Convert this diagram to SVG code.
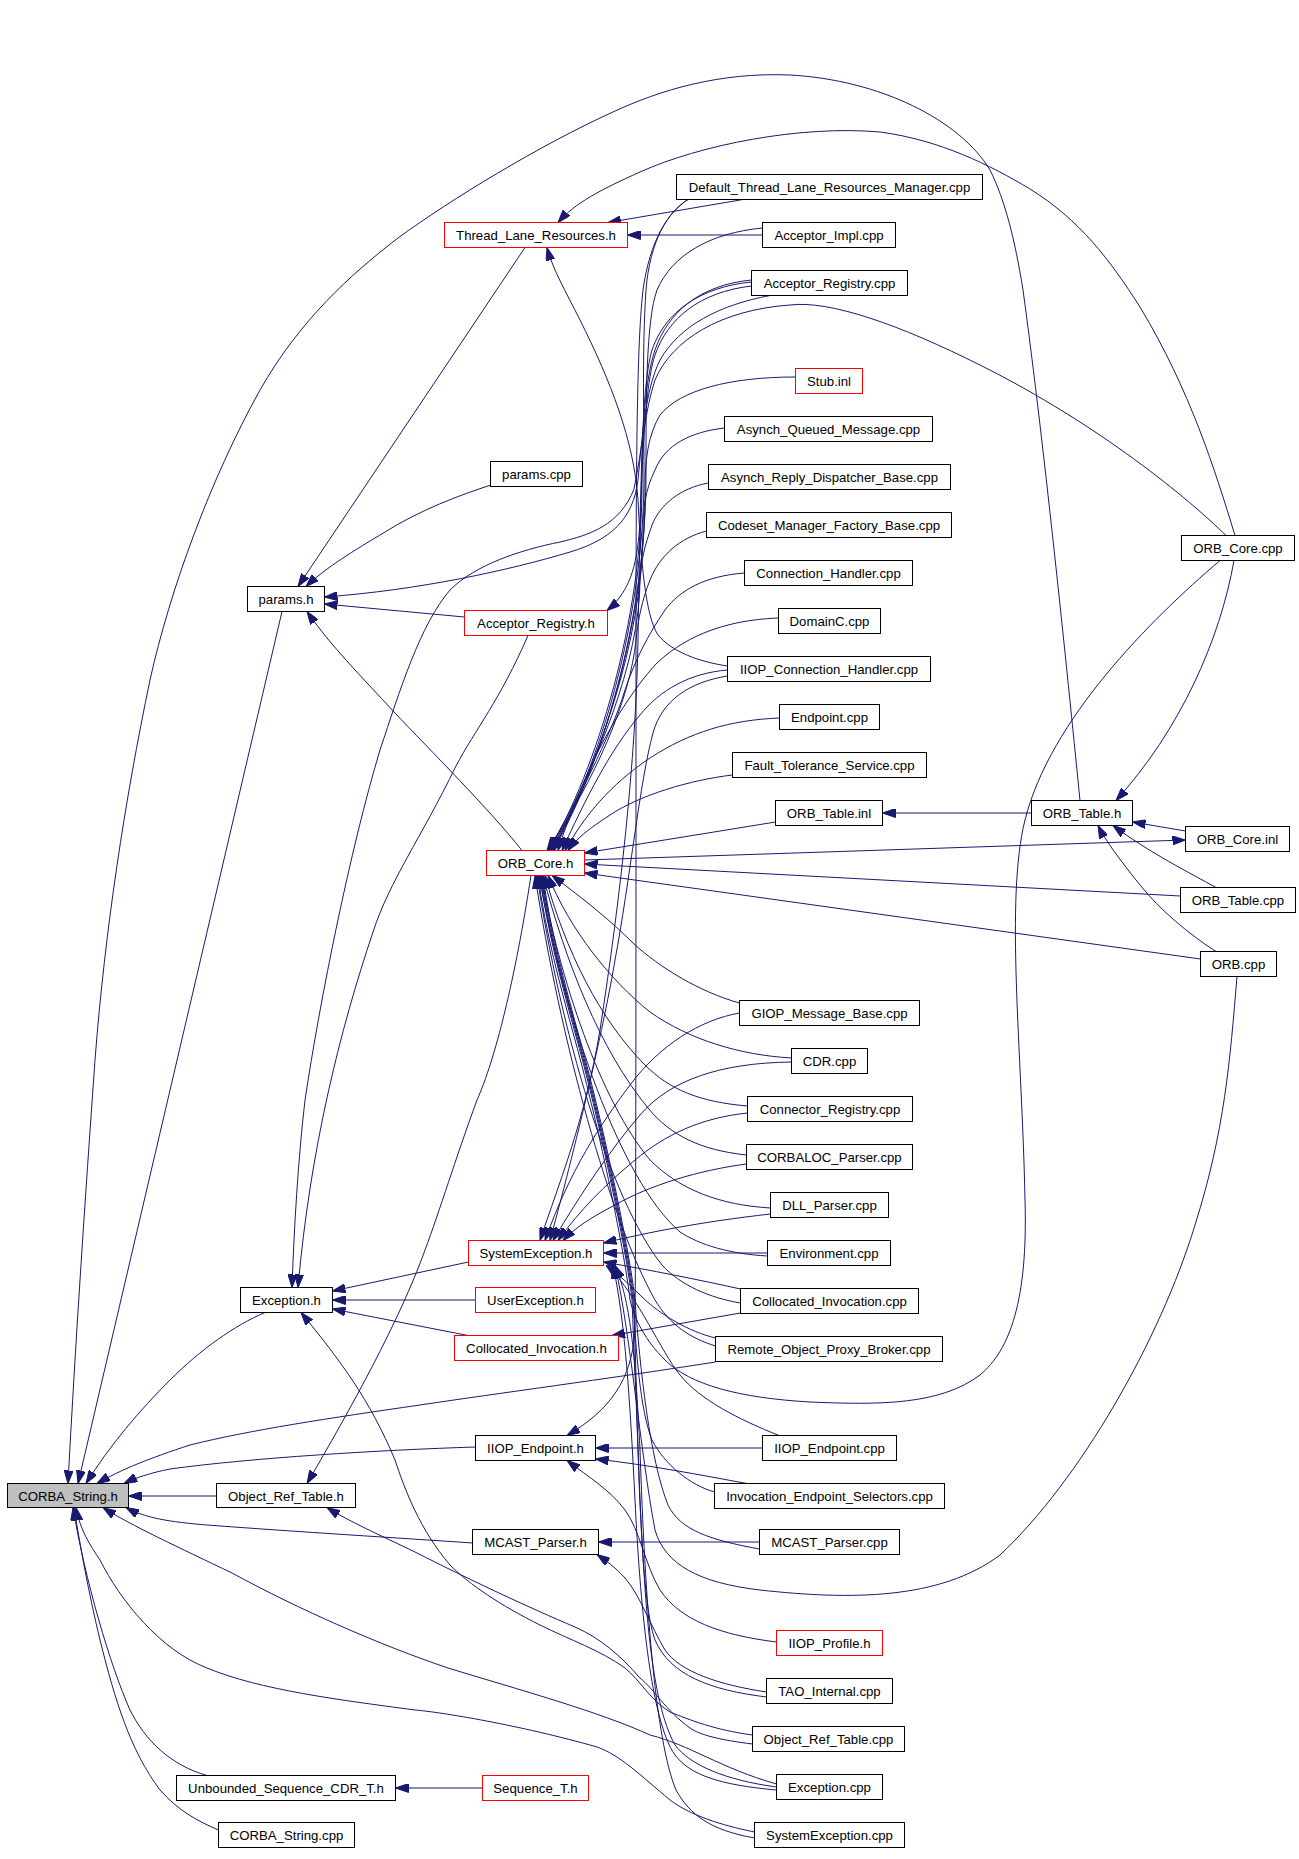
<svg xmlns="http://www.w3.org/2000/svg" width="1299" height="1859" viewBox="0 0 1299 1859">
<style>
.n rect{fill:#ffffff;stroke:#000000;stroke-width:1}
.r rect{stroke:#ff0000}
.g rect{fill:#bfbfbf}
.n text{font-family:"Liberation Sans",Arial,sans-serif;font-size:13.2px;fill:#000000;text-anchor:middle}
.e path{fill:none;stroke:#191970;stroke-width:1;marker-end:url(#ah)}
</style>
<defs>
<marker id="ah" viewBox="0 0 13 9" refX="13" refY="4.5" markerWidth="13" markerHeight="9" markerUnits="userSpaceOnUse" orient="auto"><path d="M0,0 L13,4.5 L0,9 Z" fill="#191970" stroke="#191970" stroke-width="1"/></marker>
</defs>
<rect x="0" y="0" width="1299" height="1859" fill="#ffffff"/>
<g id="edges" class="e">
<path d="M743,199.5 L608,222.5"/>
<path d="M762.5,235 L627.5,235"/>
<path d="M1235,535.5 C1215,470 1190,390 1140,307 C1110,260 1080,220 1030,189 C990,165 940,140 880,132 C800,125 700,145 640,172 C600,190 575,203 558,222.5"/>
<path d="M1080,800.5 C1070,700 1045,450 1023,290 C1015,240 1005,200 990,170 C960,120 880,80 790,75 C720,72 660,90 613,112 C540,145 450,200 398,238 C350,275 300,320 260,390 C210,480 170,590 150,680 C125,800 105,930 95,1060 C85,1200 75,1350 68,1483.5"/>
<path d="M1234,560.5 C1220,640 1180,730 1116,800.5"/>
<path d="M1220,560.5 C1150,620 1050,720 1025,820 C1005,900 1022,1050 1025,1200 C1028,1300 1010,1350 980,1375 C940,1405 880,1405 810,1402 C740,1398 690,1385 665,1360 C645,1340 635,1320 630,1300 C626,1260 600,1130 575,1040 C560,985 545,930 538,875.5"/>
<path d="M1226,535.5 C1190,500 1100,425 980,365 C900,325 830,300 790,305 C720,310 672,340 655,380 C645,410 642,450 634,489 C620,525 590,535 560,542 C520,550 475,565 450,590 C420,625 400,690 380,750 C350,850 320,1000 305,1100 C298,1160 294,1230 292,1287.5"/>
<path d="M727.5,666 C700,662 672,652 658,635 C645,615 641,560 638,500 C634,440 610,380 580,320 C565,290 553,270 547,247.5"/>
<path d="M525,247.5 L298,586.5"/>
<path d="M491,485 C460,495 420,510 385,532 C355,550 325,568 306,586.5"/>
<path d="M464.5,617 L324.5,604"/>
<path d="M770,295.5 C720,305 680,325 660,360 C645,390 642,440 638,480 C633,520 610,540 570,552 C510,570 420,590 324.5,597"/>
<path d="M522,850.5 C490,810 430,750 394,712 C360,675 330,645 307,611.5"/>
<path d="M751.5,282 C700,287 665,312 652,350 C643,380 642,450 640,520 C638,560 632,590 607,610.5"/>
<path d="M751.5,286 C700,292 668,318 655,355 C643,390 640,500 638,640 C636,760 620,900 600,1030 C585,1120 560,1180 540,1240.5"/>
<path d="M688,199.5 C668,212 650,240 643,290 C636,350 636,500 636,700 C636,900 636,1200 635,1330 C632,1380 610,1410 567,1435.5"/>
<path d="M688,199.5 C668,212 650,240 646,290 C642,350 644,420 644,470 C645,620 598,770 551,850.5"/>
<path d="M762.5,228 C710,233 672,255 657,290 C646,320 646,400 646,470 C647,620 600,770 553,850.5"/>
<path d="M751.5,280 C700,285 668,312 655,350 C645,380 642,430 642,480 C643,620 596,770 549,850.5"/>
<path d="M795.5,377 C730,377 680,390 660,415 C648,435 645,460 645,490 C646,625 599,770 552,850.5"/>
<path d="M724.5,428 C690,432 665,445 655,470 C645,490 643,510 643,530 C643,640 597,770 550,850.5"/>
<path d="M708.5,483 C680,488 660,505 652,525 C645,545 641,560 640,580 C640,660 596,770 548,850.5"/>
<path d="M706.5,531 C680,538 660,555 650,580 C642,600 638,620 636,640 C630,700 595,780 547,850.5"/>
<path d="M744.5,573 C705,576 680,590 665,610 C648,635 635,660 625,690 C610,740 575,800 554,850.5"/>
<path d="M778.5,618 C720,620 680,640 655,665 C615,710 580,780 558,850.5"/>
<path d="M727.5,670 C690,673 660,690 640,715 C610,750 585,800 562,850.5"/>
<path d="M779.5,718 C730,720 690,732 650,758 C610,785 585,815 565,850.5"/>
<path d="M732.5,775 C690,780 640,795 610,815 C590,828 577,838 568,850.5"/>
<path d="M727.5,676 C690,682 662,700 653,733 C640,780 630,880 615,960 C605,1020 580,1130 550,1240.5"/>
<path d="M775.5,822 L584.5,853"/>
<path d="M1180.5,896 L584.5,864"/>
<path d="M1200.5,959 L584.5,873"/>
<path d="M584.5,860 L1185.5,840"/>
<path d="M1031.5,813 L882.5,813"/>
<path d="M1185.5,831 L1132.5,822"/>
<path d="M1216,887.5 C1190,873 1150,853 1113,825.5"/>
<path d="M1216,951.5 C1190,935 1160,910 1140,885 C1120,860 1105,840 1098,825.5"/>
<path d="M1237,976.5 C1230,1060 1225,1130 1195,1225 C1160,1340 1080,1480 1000,1555 C940,1600 850,1600 760,1590 C700,1583 665,1565 655,1530 C640,1450 630,1330 615,1265.5"/>
<path d="M531,875.5 C515,980 495,1060 477,1100 C455,1160 440,1210 425,1250 C400,1320 350,1410 307,1483.5"/>
<path d="M468.5,1262 L332.5,1291"/>
<path d="M475.5,1300 L332.5,1300"/>
<path d="M468,1335.5 L332.5,1309"/>
<path d="M528,635.5 C500,700 475,730 456,766 C420,840 390,880 373,932 C340,1030 310,1150 298,1287.5"/>
<path d="M265,1312.5 C235,1325 200,1350 170,1380 C140,1410 110,1445 86,1483.5"/>
<path d="M752.5,1735 C715,1730 690,1720 670,1712 C650,1700 640,1680 625,1668 C600,1650 570,1640 540,1625 C500,1605 470,1585 450,1565 C420,1530 405,1490 395,1460 C370,1400 340,1360 301,1312.5"/>
<path d="M752.5,1744 C720,1740 700,1735 690,1728 C665,1710 655,1690 640,1678 C620,1655 600,1638 575,1627 C530,1608 470,1580 415,1552 C380,1535 350,1522 327,1507.5"/>
<path d="M216.5,1496 L128.5,1496"/>
<path d="M475.5,1447 C380,1450 250,1458 170,1469 C150,1473 135,1478 124,1483.5"/>
<path d="M715.5,1362 C600,1380 500,1393 420,1405 C330,1418 250,1430 190,1445 C150,1458 120,1470 97,1483.5"/>
<path d="M472.5,1543 C400,1538 300,1532 207,1525 C170,1522 145,1518 126,1507.5"/>
<path d="M282,611.5 L78,1483.5"/>
<path d="M776.5,1784 C720,1768 690,1745 650,1735 C600,1712 520,1690 448,1668 C380,1645 300,1610 232,1573 C180,1548 130,1525 103,1507.5"/>
<path d="M754.5,1832 C720,1825 690,1815 670,1800 C640,1775 620,1755 597,1747 C520,1725 440,1712 415,1710 C340,1700 260,1690 207,1668 C160,1650 120,1600 100,1560 C90,1545 80,1530 76,1507.5"/>
<path d="M207,1775.5 C170,1765 145,1740 130,1710 C110,1665 85,1580 73,1507.5"/>
<path d="M218.5,1830 C195,1820 178,1810 160,1790 C130,1750 115,1700 100,1640 C88,1590 80,1545 74,1507.5"/>
<path d="M482.5,1788 L395.5,1788"/>
<path d="M739.5,1013 C700,1020 660,1045 630,1085 C600,1125 570,1170 545,1240.5"/>
<path d="M791.5,1062 C720,1063 670,1080 640,1115 C610,1150 580,1195 553,1240.5"/>
<path d="M747.5,1113 C700,1118 665,1135 635,1160 C605,1185 580,1210 558,1240.5"/>
<path d="M746.5,1164 C700,1170 650,1185 615,1205 C590,1218 575,1228 563,1240.5"/>
<path d="M770.5,1214 C700,1222 650,1232 603.5,1243"/>
<path d="M767.5,1253 L603.5,1253"/>
<path d="M740.5,1289 C700,1280 650,1270 603.5,1262"/>
<path d="M715.5,1338 C690,1332 660,1315 640,1295 C625,1280 615,1272 606,1265.5"/>
<path d="M779,1435.5 C740,1420 700,1400 680,1375 C660,1350 640,1300 608,1265.5"/>
<path d="M714.5,1492 C690,1485 665,1465 652,1440 C640,1410 636,1350 633,1300 C629,1260 603,1130 578,1040 C563,985 548,930 541,875.5"/>
<path d="M759.5,1549 C710,1540 680,1530 668,1505 C650,1460 640,1370 635,1300 C631,1260 605,1130 580,1040 C565,985 550,930 543,875.5"/>
<path d="M776.5,1790 C720,1785 690,1775 675,1755 C650,1720 640,1600 635,1500 C630,1400 625,1320 613,1265.5"/>
<path d="M754.5,1838 C710,1830 690,1815 676,1790 C655,1740 645,1600 640,1450 C635,1350 630,1300 615,1265.5"/>
<path d="M740.5,1313 L612,1335.5"/>
<path d="M762.5,1448 L595.5,1448"/>
<path d="M747,1483.5 C700,1475 650,1465 595.5,1459"/>
<path d="M776.5,1642 C720,1635 680,1620 660,1590 C645,1565 640,1530 625,1510 C610,1490 590,1478 567,1460.5"/>
<path d="M759.5,1542 L598.5,1542"/>
<path d="M766.5,1692 C720,1685 680,1672 665,1650 C650,1625 640,1595 625,1578 C615,1567 605,1560 597,1554.5"/>
<path d="M766.5,1697 C710,1690 670,1675 655,1640 C640,1600 638,1450 634,1300 C630,1260 604,1130 579,1040 C564,985 549,930 542,875.5"/>
<path d="M739.5,1003 C700,992 660,968 633,943 C610,920 585,900 552,875.5"/>
<path d="M791.5,1058 C740,1055 690,1040 650,1012 C610,980 570,930 548,875.5"/>
<path d="M747.5,1106 C700,1102 670,1090 645,1065 C600,1020 565,950 545,875.5"/>
<path d="M746.5,1155 C700,1150 670,1135 648,1108 C600,1050 565,960 543,875.5"/>
<path d="M770.5,1208 C720,1205 680,1190 650,1160 C600,1100 560,980 541,875.5"/>
<path d="M767.5,1256 C730,1254 700,1245 680,1232 C620,1180 565,1020 539,875.5"/>
<path d="M740.5,1303 C710,1298 680,1285 662,1265 C610,1200 560,1030 537,875.5"/>
<path d="M715.5,1346 C690,1338 670,1325 655,1300 C610,1220 560,1040 535,875.5"/>
<path d="M776.5,1787 C725,1780 690,1765 675,1745 C650,1700 645,1600 640,1500 C637,1420 634,1350 632,1300 C628,1260 602,1130 577,1040 C562,985 547,930 540,875.5"/>
</g>
<g id="n1" class="n g"><rect x="7.5" y="1483.5" width="121" height="24"/><text x="68" y="1500.5">CORBA_String.h</text></g>
<g id="n2" class="n r"><rect x="444.5" y="222.5" width="183" height="25"/><text x="536" y="240">Thread_Lane_Resources.h</text></g>
<g id="n3" class="n"><rect x="490.5" y="461.5" width="92" height="25"/><text x="536.5" y="479">params.cpp</text></g>
<g id="n4" class="n"><rect x="247.5" y="586.5" width="77" height="25"/><text x="286" y="604">params.h</text></g>
<g id="n5" class="n r"><rect x="464.5" y="610.5" width="143" height="25"/><text x="536" y="628">Acceptor_Registry.h</text></g>
<g id="n6" class="n r"><rect x="486.5" y="850.5" width="98" height="25"/><text x="535.5" y="868">ORB_Core.h</text></g>
<g id="n7" class="n r"><rect x="468.5" y="1240.5" width="135" height="25"/><text x="536" y="1258">SystemException.h</text></g>
<g id="n8" class="n"><rect x="240.5" y="1287.5" width="92" height="25"/><text x="286.5" y="1305">Exception.h</text></g>
<g id="n9" class="n r"><rect x="475.5" y="1287.5" width="120" height="25"/><text x="535.5" y="1305">UserException.h</text></g>
<g id="n10" class="n r"><rect x="454.5" y="1335.5" width="164" height="25"/><text x="536.5" y="1353">Collocated_Invocation.h</text></g>
<g id="n11" class="n"><rect x="475.5" y="1435.5" width="120" height="25"/><text x="535.5" y="1453">IIOP_Endpoint.h</text></g>
<g id="n12" class="n"><rect x="216.5" y="1483.5" width="139" height="24"/><text x="286" y="1500.5">Object_Ref_Table.h</text></g>
<g id="n13" class="n"><rect x="472.5" y="1529.5" width="126" height="25"/><text x="535.5" y="1547">MCAST_Parser.h</text></g>
<g id="n14" class="n"><rect x="176.5" y="1775.5" width="219" height="25"/><text x="286" y="1793">Unbounded_Sequence_CDR_T.h</text></g>
<g id="n15" class="n r"><rect x="482.5" y="1775.5" width="106" height="25"/><text x="535.5" y="1793">Sequence_T.h</text></g>
<g id="n16" class="n"><rect x="218.5" y="1822.5" width="136" height="25"/><text x="286.5" y="1840">CORBA_String.cpp</text></g>
<g id="n17" class="n"><rect x="676.5" y="174.5" width="306" height="25"/><text x="829.5" y="192">Default_Thread_Lane_Resources_Manager.cpp</text></g>
<g id="n18" class="n"><rect x="762.5" y="222.5" width="133" height="25"/><text x="829" y="240">Acceptor_Impl.cpp</text></g>
<g id="n19" class="n"><rect x="751.5" y="270.5" width="156" height="25"/><text x="829.5" y="288">Acceptor_Registry.cpp</text></g>
<g id="n20" class="n r"><rect x="795.5" y="368.5" width="67" height="25"/><text x="829" y="386">Stub.inl</text></g>
<g id="n21" class="n"><rect x="724.5" y="416.5" width="208" height="25"/><text x="828.5" y="434">Asynch_Queued_Message.cpp</text></g>
<g id="n22" class="n"><rect x="708.5" y="464.5" width="242" height="25"/><text x="829.5" y="482">Asynch_Reply_Dispatcher_Base.cpp</text></g>
<g id="n23" class="n"><rect x="706.5" y="512.5" width="245" height="25"/><text x="829" y="530">Codeset_Manager_Factory_Base.cpp</text></g>
<g id="n24" class="n"><rect x="744.5" y="560.5" width="168" height="25"/><text x="828.5" y="578">Connection_Handler.cpp</text></g>
<g id="n25" class="n"><rect x="778.5" y="608.5" width="102" height="25"/><text x="829.5" y="626">DomainC.cpp</text></g>
<g id="n26" class="n"><rect x="727.5" y="656.5" width="203" height="25"/><text x="829" y="674">IIOP_Connection_Handler.cpp</text></g>
<g id="n27" class="n"><rect x="779.5" y="704.5" width="100" height="25"/><text x="829.5" y="722">Endpoint.cpp</text></g>
<g id="n28" class="n"><rect x="732.5" y="752.5" width="194" height="25"/><text x="829.5" y="770">Fault_Tolerance_Service.cpp</text></g>
<g id="n29" class="n"><rect x="775.5" y="800.5" width="107" height="25"/><text x="829" y="818">ORB_Table.inl</text></g>
<g id="n30" class="n"><rect x="1031.5" y="800.5" width="101" height="25"/><text x="1082" y="818">ORB_Table.h</text></g>
<g id="n31" class="n"><rect x="1185.5" y="826.5" width="104" height="25"/><text x="1237.5" y="844">ORB_Core.inl</text></g>
<g id="n32" class="n"><rect x="1180.5" y="887.5" width="115" height="25"/><text x="1238" y="905">ORB_Table.cpp</text></g>
<g id="n33" class="n"><rect x="1200.5" y="951.5" width="76" height="25"/><text x="1238.5" y="969">ORB.cpp</text></g>
<g id="n34" class="n"><rect x="1181.5" y="535.5" width="113" height="25"/><text x="1238" y="553">ORB_Core.cpp</text></g>
<g id="n35" class="n"><rect x="739.5" y="1000.5" width="180" height="25"/><text x="829.5" y="1018">GIOP_Message_Base.cpp</text></g>
<g id="n36" class="n"><rect x="791.5" y="1048.5" width="76" height="25"/><text x="829.5" y="1066">CDR.cpp</text></g>
<g id="n37" class="n"><rect x="747.5" y="1096.5" width="165" height="25"/><text x="830" y="1114">Connector_Registry.cpp</text></g>
<g id="n38" class="n"><rect x="746.5" y="1144.5" width="166" height="25"/><text x="829.5" y="1162">CORBALOC_Parser.cpp</text></g>
<g id="n39" class="n"><rect x="770.5" y="1192.5" width="118" height="25"/><text x="829.5" y="1210">DLL_Parser.cpp</text></g>
<g id="n40" class="n"><rect x="767.5" y="1240.5" width="123" height="25"/><text x="829" y="1258">Environment.cpp</text></g>
<g id="n41" class="n"><rect x="740.5" y="1288.5" width="178" height="25"/><text x="829.5" y="1306">Collocated_Invocation.cpp</text></g>
<g id="n42" class="n"><rect x="715.5" y="1336.5" width="227" height="25"/><text x="829" y="1354">Remote_Object_Proxy_Broker.cpp</text></g>
<g id="n43" class="n"><rect x="762.5" y="1435.5" width="134" height="25"/><text x="829.5" y="1453">IIOP_Endpoint.cpp</text></g>
<g id="n44" class="n"><rect x="714.5" y="1483.5" width="230" height="25"/><text x="829.5" y="1501">Invocation_Endpoint_Selectors.cpp</text></g>
<g id="n45" class="n"><rect x="759.5" y="1529.5" width="140" height="25"/><text x="829.5" y="1547">MCAST_Parser.cpp</text></g>
<g id="n46" class="n r"><rect x="776.5" y="1630.5" width="106" height="25"/><text x="829.5" y="1648">IIOP_Profile.h</text></g>
<g id="n47" class="n"><rect x="766.5" y="1678.5" width="126" height="25"/><text x="829.5" y="1696">TAO_Internal.cpp</text></g>
<g id="n48" class="n"><rect x="752.5" y="1726.5" width="152" height="25"/><text x="828.5" y="1744">Object_Ref_Table.cpp</text></g>
<g id="n49" class="n"><rect x="776.5" y="1774.5" width="106" height="25"/><text x="829.5" y="1792">Exception.cpp</text></g>
<g id="n50" class="n"><rect x="754.5" y="1822.5" width="150" height="25"/><text x="829.5" y="1840">SystemException.cpp</text></g>
</svg>
